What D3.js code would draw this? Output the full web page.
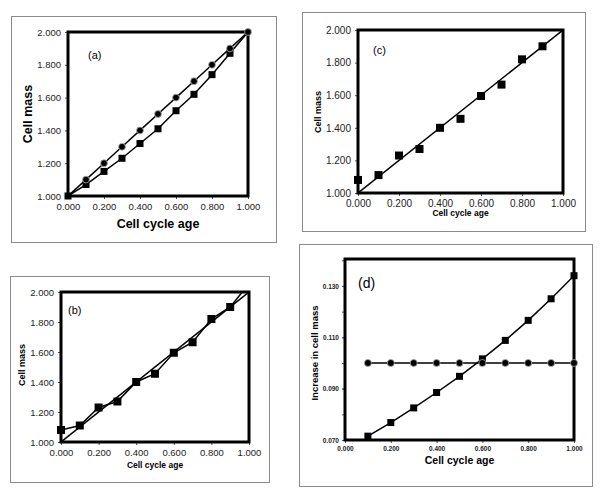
<!DOCTYPE html>
<html>
<head>
<meta charset="utf-8">
<script src="https://cdn.jsdelivr.net/npm/d3@7"></script>
<style>
  body { margin: 0; background: #fff; }
  svg { display: block; font-family: "Liberation Sans", Arial, sans-serif; }
</style>
</head>
<body>
<svg id="chart" width="600" height="494"></svg>
<script>
// ---- data ----
const ages = [0.0, 0.1, 0.2, 0.3, 0.4, 0.5, 0.6, 0.7, 0.8, 0.9, 1.0];
const linearMass = [1.0, 1.1, 1.2, 1.3, 1.4, 1.5, 1.6, 1.7, 1.8, 1.9, 2.0];
const expMass = [1.0, 1.07, 1.15, 1.23, 1.32, 1.41, 1.52, 1.62, 1.74, 1.87, 2.0];

const measAges = [0.0, 0.1, 0.2, 0.3, 0.4, 0.5, 0.6, 0.7, 0.8, 0.9];
const measMass = [1.08, 1.11, 1.23, 1.27, 1.40, 1.455, 1.595, 1.665, 1.82, 1.90];
// connected line in (b) runs on past the top of the box
const measLineAges = [0.0, 0.1, 0.2, 0.3, 0.4, 0.5, 0.6, 0.7, 0.8, 0.9, 1.0];
const measLineMass = [1.08, 1.11, 1.23, 1.27, 1.40, 1.455, 1.595, 1.665, 1.82, 1.90, 2.055];

const fitAges = [0.0, 1.0];
const fitMass = [1.0, 2.0];

const incAges = [0.1, 0.2, 0.3, 0.4, 0.5, 0.6, 0.7, 0.8, 0.9, 1.0];
const incLinear = [0.100, 0.100, 0.100, 0.100, 0.100, 0.100, 0.100, 0.100, 0.100, 0.100];
const incExp = [0.0715, 0.0768, 0.0825, 0.0885, 0.0948, 0.1016, 0.1088, 0.1166, 0.1250, 0.1340];

const massTicks = [1.0, 1.2, 1.4, 1.6, 1.8, 2.0];
const ageTicks = [0.0, 0.2, 0.4, 0.6, 0.8, 1.0];
const incTicks = [0.07, 0.09, 0.11, 0.13];
const incMinorTicks = [0.07, 0.08, 0.09, 0.10, 0.11, 0.12, 0.13, 0.14];

const svg = d3.select("#chart");
const fmt = d3.format(".3f");
let panelCount = 0;

function zip(xs, ys) { return xs.map((x, i) => [x, ys[i]]); }

function drawPanel(p) {
  panelCount += 1;
  // outer thin frame
  svg.append("rect")
    .attr("x", p.frame[0] + 0.5).attr("y", p.frame[1] + 0.5)
    .attr("width", p.frame[2] - p.frame[0]).attr("height", p.frame[3] - p.frame[1])
    .attr("fill", "none").attr("stroke", "#8a8a8a").attr("stroke-width", 1);

  const [x0, y0, x1, y1] = p.box;
  const x = d3.scaleLinear().domain([0, 1]).range([x0, x1]);
  const y = d3.scaleLinear().domain(p.yDomain).range([y1, y0]);

  const g = svg.append("g");
  const clipId = "clip" + panelCount;
  g.append("clipPath").attr("id", clipId)
    .append("rect").attr("x", x0).attr("y", y0).attr("width", x1 - x0).attr("height", y1 - y0);

  // axes
  const xAxis = g.append("g")
    .attr("transform", `translate(0,${y1})`)
    .call(d3.axisBottom(x).tickValues(ageTicks).tickFormat(fmt).tickSize(3).tickPadding(p.xPad));
  const yAxis = g.append("g")
    .attr("transform", `translate(${x0},0)`)
    .call(d3.axisLeft(y).tickValues(p.yTicks).tickFormat(fmt).tickSize(3).tickPadding(p.yPad));
  [xAxis, yAxis].forEach(a => {
    a.select(".domain").remove();
    a.selectAll("line").attr("stroke", "#555");
    a.selectAll("text").attr("fill", "#222").style("font-size", p.tickFont + "px")
      .style("font-family", "'Liberation Sans', Arial, sans-serif");
  });
  if (p.tickBold) [xAxis, yAxis].forEach(a => a.selectAll("text").style("font-weight", "bold"));
  if (p.minorY) {
    g.append("g").attr("transform", `translate(${x0},0)`)
      .call(d3.axisLeft(y).tickValues(p.minorY).tickFormat("").tickSize(3))
      .call(a => { a.select(".domain").remove(); a.selectAll("line").attr("stroke", "#555"); });
  }

  // series
  const plot = g.append("g").attr("clip-path", `url(#${clipId})`);
  const line = d3.line().x(d => x(d[0])).y(d => y(d[1]));
  p.lines.forEach(s => {
    plot.append("path").datum(s)
      .attr("d", line).attr("fill", "none")
      .attr("stroke", "#000").attr("stroke-width", 1.5);
  });

  // thick box
  g.append("rect")
    .attr("x", x0).attr("y", y0).attr("width", x1 - x0).attr("height", y1 - y0)
    .attr("fill", "none").attr("stroke", "#000").attr("stroke-width", 3);

  p.squares.forEach(s => {
    g.selectAll(null).data(s).enter().append("rect")
      .attr("x", d => x(d[0]) - p.sq / 2).attr("y", d => y(d[1]) - p.sq / 2)
      .attr("width", p.sq).attr("height", p.sq).attr("fill", "#000");
  });
  p.circles.forEach(s => {
    g.selectAll(null).data(s).enter().append("circle")
      .attr("cx", d => x(d[0])).attr("cy", d => y(d[1]))
      .attr("r", p.cr).attr("fill", "#000").attr("stroke", "#aaa").attr("stroke-width", 0.8);
  });

  // titles
  g.append("text").attr("x", (x0 + x1) / 2).attr("y", p.xTitleY)
    .attr("text-anchor", "middle").style("font-weight", "bold").style("font-size", p.titleFont + "px")
    .text("Cell cycle age");
  g.append("text")
    .attr("transform", `translate(${p.yTitleX},${p.yTitleCY}) rotate(-90)`)
    .attr("text-anchor", "middle").style("font-weight", "bold").style("font-size", p.yTitleFont + "px")
    .text(p.yTitle);
  g.append("text").attr("x", p.tag[0]).attr("y", p.tag[1])
    .style("font-size", p.tagFont + "px").text(p.name);
}

drawPanel({
  name: "(a)", frame: [11, 16, 276, 242], box: [68, 32, 248, 196],
  yDomain: [1, 2], yTicks: massTicks, tickFont: 9.5, xPad: 4, yPad: 4,
  lines: [zip(ages, linearMass), zip(ages, expMass)],
  squares: [zip(ages.slice(0, 10), expMass.slice(0, 10))],
  circles: [zip(ages.slice(1), linearMass.slice(1))],
  sq: 7, cr: 3.4,
  xTitleY: 228, titleFont: 12.5, yTitle: "Cell mass", yTitleX: 32, yTitleCY: 114, yTitleFont: 12.5,
  tag: [88, 59], tagFont: 11
});

drawPanel({
  name: "(c)", frame: [302, 12, 585, 231], box: [358, 30, 563, 193],
  yDomain: [1, 2], yTicks: massTicks, tickFont: 10, xPad: 4, yPad: 4,
  lines: [zip(fitAges, fitMass)],
  squares: [zip(measAges, measMass)],
  circles: [],
  sq: 8, cr: 3,
  xTitleY: 216, titleFont: 8.5, yTitle: "Cell mass", yTitleX: 321, yTitleCY: 112, yTitleFont: 9,
  tag: [373, 54], tagFont: 11
});

drawPanel({
  name: "(b)", frame: [10, 276, 269, 482], box: [61, 292, 249, 442],
  yDomain: [1, 2], yTicks: massTicks, tickFont: 9.5, xPad: 4, yPad: 4,
  lines: [zip(fitAges, fitMass), zip(measLineAges, measLineMass)],
  squares: [zip(measAges, measMass)],
  circles: [],
  sq: 8, cr: 3,
  xTitleY: 468, titleFont: 8.5, yTitle: "Cell mass", yTitleX: 25, yTitleCY: 365, yTitleFont: 9,
  tag: [68, 314], tagFont: 11
});

drawPanel({
  name: "(d)", frame: [299, 244, 592, 486], box: [345, 259, 574, 440],
  yDomain: [0.07, 0.1405], yTicks: incTicks, minorY: incMinorTicks, tickFont: 6.5, tickBold: true, xPad: 3, yPad: 3,
  lines: [zip(incAges, incLinear), zip(incAges, incExp)],
  squares: [zip(incAges, incExp)],
  circles: [zip(incAges, incLinear)],
  sq: 7, cr: 3.5,
  xTitleY: 464, titleFont: 10.5, yTitle: "Increase in cell mass", yTitleX: 318, yTitleCY: 353, yTitleFont: 9.5,
  tag: [358, 288], tagFont: 14
});
</script>
</body>
</html>
